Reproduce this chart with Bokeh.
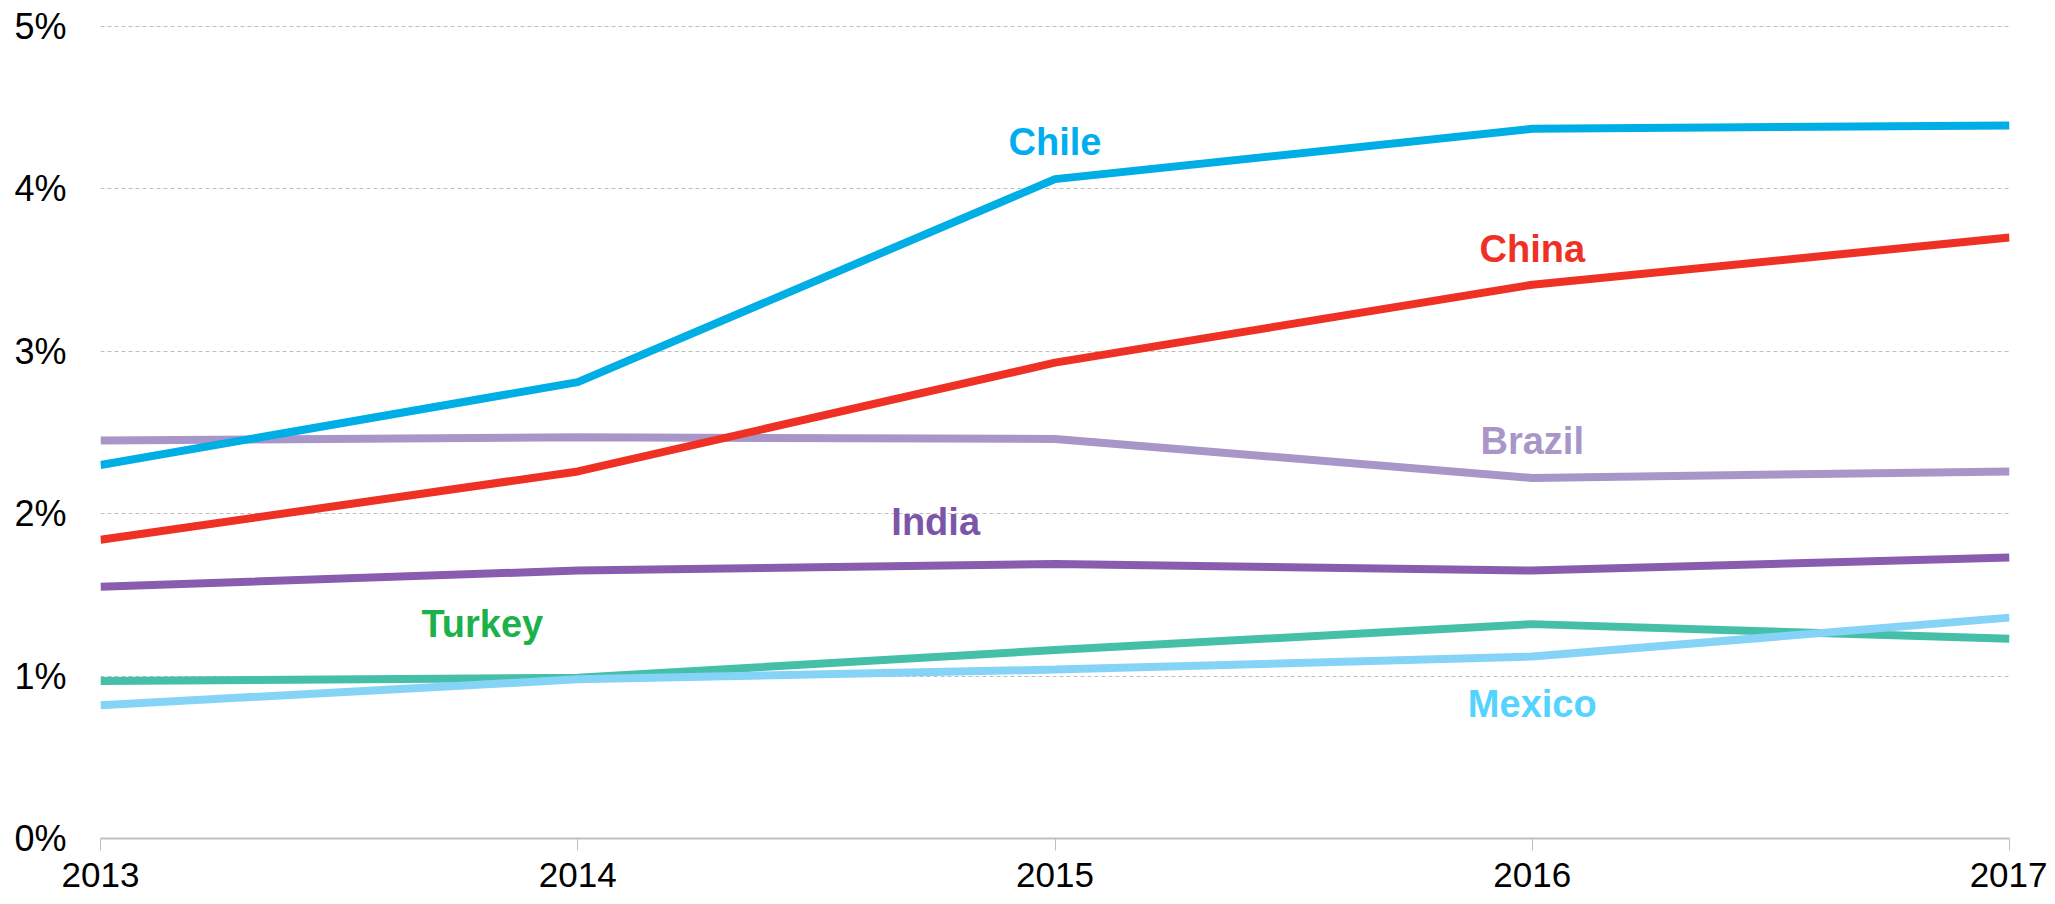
from bokeh.plotting import figure
from bokeh.models import ColumnDataSource, Range1d, FixedTicker, PrintfTickFormatter
from bokeh.core.properties import value
from bokeh.embed import file_html
from bokeh.resources import INLINE

years = [2013, 2014, 2015, 2016, 2017]
chile = [2.30, 2.81, 4.06, 4.37, 4.39]
china = [1.84, 2.26, 2.93, 3.41, 3.70]
brazil = [2.45, 2.47, 2.46, 2.22, 2.26]
india = [1.55, 1.65, 1.69, 1.65, 1.73]
turkey = [0.97, 0.99, 1.16, 1.32, 1.23]
mexico = [0.82, 0.98, 1.04, 1.12, 1.36]

series_names = ["Brazil", "India", "Turkey", "Mexico", "China", "Chile"]
series_values = [brazil, india, turkey, mexico, china, chile]
line_colors = ["#A996C9", "#8A5CB0", "#45BFA8", "#85D4F7", "#EE3124", "#00AEE6"]

label_names = ["Chile", "China", "Brazil", "India", "Turkey", "Mexico"]
label_x = [2015.0, 2016.0, 2016.0, 2014.75, 2013.80, 2016.0]
label_y = [4.29, 3.63, 2.45, 1.95, 1.32, 0.83]
label_colors = ["#00AEEF", "#EE3124", "#A996C9", "#7D55A8", "#1DB14B", "#55D3FF"]

y_ticks = [0, 1, 2, 3, 4, 5]

p = figure(width=2047, height=903, output_backend="svg", toolbar_location=None,
           x_range=Range1d(2013, 2017), y_range=Range1d(0, 5.006),
           min_border_left=100, min_border_right=38, min_border_top=25, min_border_bottom=65)
p.outline_line_color = None
p.background_fill_color = "white"
p.border_fill_color = "white"

for vals, col in zip(series_values, line_colors):
    p.line(years, vals, line_color=col, line_width=8)

src = ColumnDataSource(dict(x=label_x, y=label_y, t=label_names, c=label_colors))
p.text(x="x", y="y", text="t", text_color="c", source=src,
       text_font=value("Liberation Sans"), text_font_style="bold",
       text_font_size="38px", text_align="center", text_baseline="middle")

p.xgrid.grid_line_color = None
p.ygrid.ticker = FixedTicker(ticks=y_ticks[1:])
p.ygrid.grid_line_color = "#BFBFBF"
p.ygrid.grid_line_dash = "4 3"
p.ygrid.grid_line_width = 1

xa = p.xaxis[0]
xa.ticker = FixedTicker(ticks=years)
xa.axis_line_color = "#BFBFBF"
xa.axis_line_width = 2
xa.major_tick_line_color = "#BFBFBF"
xa.major_tick_line_width = 1
xa.major_tick_out = 12
xa.major_tick_in = 0
xa.minor_tick_line_color = None
xa.major_label_text_font = "Liberation Sans"
xa.major_label_text_font_size = "35px"
xa.major_label_text_color = "black"
xa.major_label_standoff = 12

ya = p.yaxis[0]
ya.ticker = FixedTicker(ticks=y_ticks)
ya.formatter = PrintfTickFormatter(format="%d%%")
ya.axis_line_color = None
ya.major_tick_line_color = None
ya.minor_tick_line_color = None
ya.major_tick_out = 0
ya.major_tick_in = 0
ya.major_label_text_font = "Liberation Sans"
ya.major_label_text_font_size = "36px"
ya.major_label_text_color = "black"
ya.major_label_standoff = 34

open("out.html", "w").write(file_html(p, INLINE))
